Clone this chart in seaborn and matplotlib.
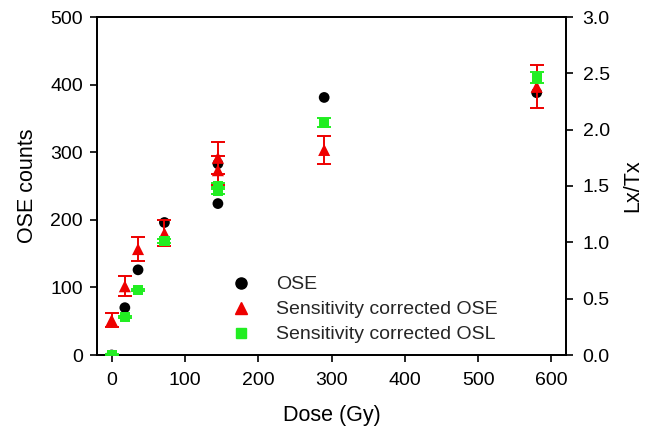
import matplotlib
matplotlib.use("Agg")
import matplotlib.pyplot as plt
import seaborn as sns
import pandas as pd
from matplotlib.lines import Line2D

# Data
ose_dose = [0, 18, 36, 72, 145, 145, 290, 580]
ose_counts = [0, 70, 126, 196, 283, 224, 381, 388]

sc_ose_dose = [0, 18, 36, 72, 145, 145, 290, 580]
sc_ose_lxtx = [0.31, 0.61, 0.94, 1.08, 1.75, 1.64, 1.82, 2.38]
sc_ose_err = [0.06, 0.09, 0.11, 0.115, 0.14, 0.13, 0.127, 0.19]

sc_osl_dose = [0, 18, 36, 72, 145, 145, 290, 580]
sc_osl_lxtx = [0.0, 0.34, 0.58, 1.01, 1.50, 1.46, 2.06, 2.46]
sc_osl_err = [0.01, 0.01, 0.01, 0.02, 0.03, 0.03, 0.04, 0.05]

x_ticks = [0, 100, 200, 300, 400, 500, 600]
y_ticks = [0, 100, 200, 300, 400, 500]
y2_ticks = [0.0, 0.5, 1.0, 1.5, 2.0, 2.5, 3.0]

sns.set_theme(style="ticks")
plt.rcParams['font.family'] = ['Liberation Sans', 'DejaVu Sans']

fig = plt.figure(figsize=(6.49, 4.33), dpi=100)
ax = fig.add_axes([97/649, 1-355/433, (566-97)/649, (355-17)/433])
ax2 = ax.twinx()

RED = "#ee0000"
GREEN = "#22ee22"

df_ose = pd.DataFrame({"dose": ose_dose, "val": ose_counts})
df_red = pd.DataFrame({"dose": sc_ose_dose, "val": sc_ose_lxtx, "err": sc_ose_err})
df_grn = pd.DataFrame({"dose": sc_osl_dose, "val": sc_osl_lxtx, "err": sc_osl_err})

sns.scatterplot(data=df_ose, x="dose", y="val", ax=ax, color="black", marker="o",
                s=60, edgecolor="none", zorder=3, legend=False)

ax2.errorbar(df_red["dose"], df_red["val"], yerr=df_red["err"], fmt="none",
             ecolor=RED, elinewidth=1.4, capsize=5, capthick=1.4, zorder=2)
sns.scatterplot(data=df_red, x="dose", y="val", ax=ax2, color=RED, marker="^",
                s=75, edgecolor="none", zorder=3, legend=False)
ax2.errorbar(df_grn["dose"], df_grn["val"], yerr=df_grn["err"], fmt="none",
             ecolor=GREEN, elinewidth=1.4, capsize=5, capthick=1.4, zorder=4)
sns.scatterplot(data=df_grn, x="dose", y="val", ax=ax2, color=GREEN, marker="s",
                s=55, edgecolor="none", zorder=5, legend=False)

ax.set_xlim(-20, 620)
ax.set_ylim(0, 500)
ax2.set_ylim(0, 3.0)
ax.set_xticks(x_ticks)
ax.set_yticks(y_ticks)
ax2.set_yticks(y2_ticks)
ax2.set_yticklabels([f"{v:.1f}" for v in y2_ticks])

ax.set_xlabel("Dose (Gy)", fontsize=15.5, labelpad=12, color="black")
ax.set_ylabel("OSE counts", fontsize=15.5, labelpad=9, color="black")
ax2.set_ylabel("Lx/Tx", fontsize=15.5, labelpad=9, color="black")

for a in (ax, ax2):
    a.tick_params(axis="both", direction="out", length=5, width=1.2, labelsize=14,
                  color="black", labelcolor="black", pad=5)
    for sp in a.spines.values():
        sp.set_visible(True)
        sp.set_color("black")
        sp.set_linewidth(1.3)
ax.tick_params(axis="y", right=False)
ax.tick_params(axis="x", pad=7)
ax2.tick_params(axis="y", pad=7)

handles = [
    Line2D([], [], linestyle="none", marker="o", color="black", markersize=8),
    Line2D([], [], linestyle="none", marker="^", color=RED, markersize=9),
    Line2D([], [], linestyle="none", marker="s", color=GREEN, markersize=7.5),
]
labels = ["OSE", "Sensitivity corrected OSE", "Sensitivity corrected OSL"]
ax2.legend(handles, labels, loc="lower left", bbox_to_anchor=(0.24, 0.0),
           frameon=False, fontsize=14, handletextpad=0.8, labelspacing=0.38,
           borderaxespad=0.2)

fig.savefig("out.png", dpi=100)
